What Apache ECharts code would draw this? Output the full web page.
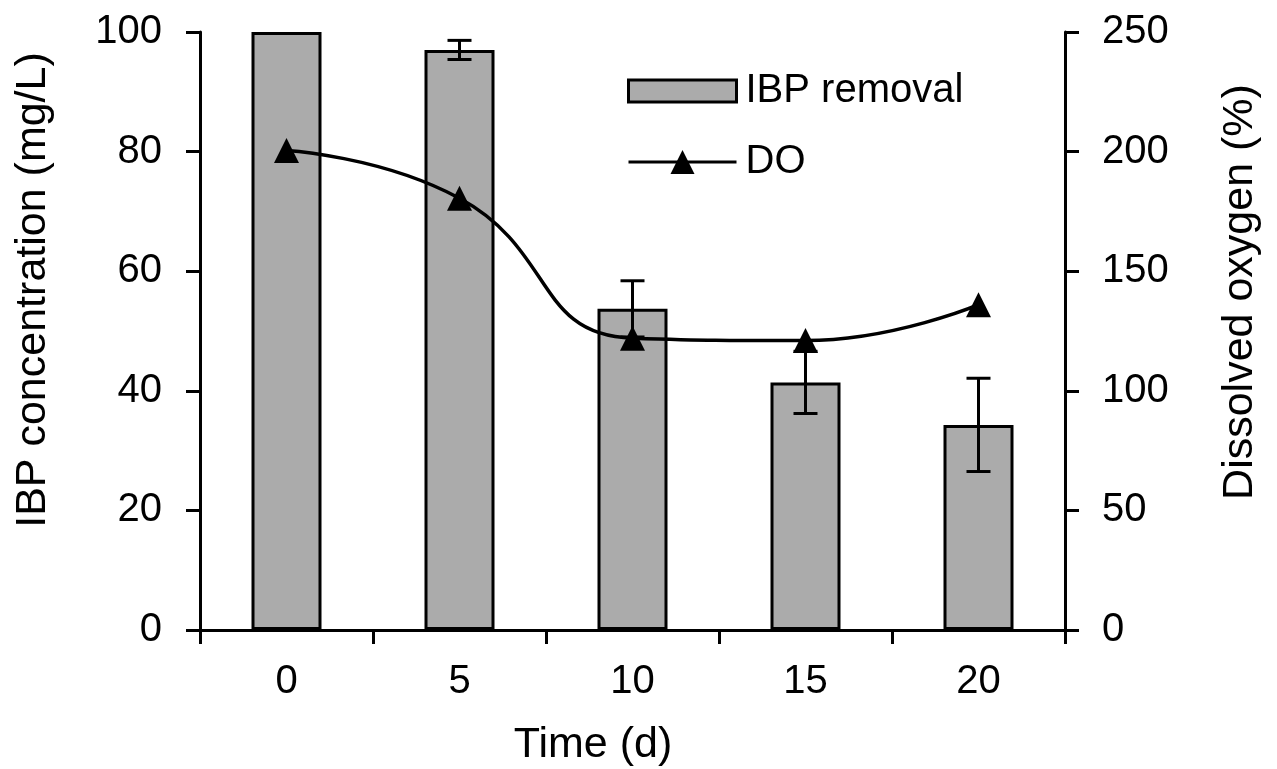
<!DOCTYPE html>
<html>
<head>
<meta charset="utf-8">
<script src="https://cdn.jsdelivr.net/npm/echarts@6/dist/echarts.min.js"></script>
<style>
html,body{margin:0;padding:0;background:#fff;}
#c{width:1277px;height:769px;}
</style>
</head>
<body>
<div id="c"></div>
<script>
const categories = ['0', '5', '10', '15', '20'];
const ibpValues = [100, 97.0, 53.7, 41.4, 34.3];
const ibpErrors = [0, 1.6, 4.7, 5.2, 7.8];
const doValues = [200.5, 180.5, 122, 121, 136];
const leftTicks = { min: 0, max: 100, interval: 20 };
const rightTicks = { min: 0, max: 250, interval: 50 };

const FONT = "'Liberation Sans', Arial, sans-serif";
const errData = ibpValues.map((v, i) => [i, v - ibpErrors[i], v + ibpErrors[i], ibpErrors[i]]);

const chart = echarts.init(document.getElementById('c'), null, { renderer: 'canvas' });
const axisLine = { show: true, lineStyle: { color: '#000', width: 3 } };
const axisTick = { show: true, inside: false, length: 14, lineStyle: { color: '#000', width: 3 } };

chart.setOption({
  animation: false,
  backgroundColor: '#fff',
  grid: { left: 200, right: 212, top: 32, bottom: 139, containLabel: false },
  legend: [
    {
      data: [{ name: 'IBP removal', icon: 'rect' }], left: 627, top: 71, padding: 0,
      itemWidth: 108, itemHeight: 22,
      itemStyle: { borderColor: '#000', borderWidth: 3, color: '#ababab' },
      textStyle: { fontSize: 40, fontFamily: FONT, color: '#000', lineHeight: 40, padding: [0, 0, 0, 4] }
    },
    {
      data: ['DO'], left: 627, top: 142, padding: 0,
      itemWidth: 108, itemHeight: 30,
      lineStyle: { color: '#000', width: 3 },
      textStyle: { fontSize: 40, fontFamily: FONT, color: '#000', lineHeight: 40, padding: [0, 0, 0, 4] }
    }
  ],
  xAxis: [
    {
      type: 'category', data: categories, position: 'bottom', boundaryGap: true,
      axisLine: axisLine,
      axisTick: Object.assign({ alignWithLabel: false }, axisTick),
      axisLabel: { fontSize: 40, fontFamily: FONT, color: '#000', margin: 32 },
      splitLine: { show: false }
    },
    {
      type: 'category', data: categories, position: 'top', boundaryGap: true,
      axisLine: axisLine, axisTick: { show: false }, axisLabel: { show: false },
      splitLine: { show: false }
    }
  ],
  yAxis: [
    {
      type: 'value', position: 'left', min: leftTicks.min, max: leftTicks.max, interval: leftTicks.interval,
      axisLine: axisLine, axisTick: axisTick,
      axisLabel: { fontSize: 40, fontFamily: FONT, color: '#000', margin: 38 },
      splitLine: { show: false }
    },
    {
      type: 'value', position: 'right', min: rightTicks.min, max: rightTicks.max, interval: rightTicks.interval,
      axisLine: axisLine, axisTick: axisTick,
      axisLabel: { fontSize: 40, fontFamily: FONT, color: '#000', margin: 37 },
      splitLine: { show: false }
    }
  ],
  graphic: [
    {
      type: 'text', x: 33, y: 290, rotation: Math.PI / 2,
      style: { text: 'IBP concentration (mg/L)', fontSize: 43, fontFamily: FONT, fill: '#000', align: 'center', verticalAlign: 'middle' }
    },
    {
      type: 'text', x: 1240, y: 292, rotation: Math.PI / 2,
      style: { text: 'Dissolved oxygen (%)', fontSize: 43, fontFamily: FONT, fill: '#000', align: 'center', verticalAlign: 'middle' }
    },
    {
      type: 'text', x: 593, y: 745,
      style: { text: 'Time (d)', fontSize: 43, fontFamily: FONT, fill: '#000', align: 'center', verticalAlign: 'middle' }
    }
  ],
  series: [
    {
      name: 'IBP removal', type: 'bar', xAxisIndex: 0, yAxisIndex: 0,
      data: ibpValues, barWidth: 70, z: 2,
      itemStyle: { color: '#ababab', borderColor: '#000', borderWidth: 3 }
    },
    {
      name: 'err', type: 'custom', xAxisIndex: 0, yAxisIndex: 0, z: 3,
      data: errData,
      renderItem: function (params, api) {
        const e = api.value(3);
        if (!e) return null;
        const x = api.value(0);
        const lo = api.coord([x, api.value(1)]);
        const hi = api.coord([x, api.value(2)]);
        const hw = 12;
        const st = { stroke: '#000', lineWidth: 3 };
        return {
          type: 'group',
          children: [
            { type: 'line', shape: { x1: lo[0], y1: lo[1], x2: hi[0], y2: hi[1] }, style: st },
            { type: 'line', shape: { x1: lo[0] - hw, y1: lo[1], x2: lo[0] + hw, y2: lo[1] }, style: st },
            { type: 'line', shape: { x1: hi[0] - hw, y1: hi[1], x2: hi[0] + hw, y2: hi[1] }, style: st }
          ]
        };
      }
    },
    {
      name: 'DO', type: 'line', xAxisIndex: 0, yAxisIndex: 1, z: 4,
      data: doValues, smooth: 0.5,
      symbol: 'triangle', symbolSize: 25,
      lineStyle: { color: '#000', width: 3.5 },
      itemStyle: { color: '#000' }
    }
  ]
});
</script>
</body>
</html>
